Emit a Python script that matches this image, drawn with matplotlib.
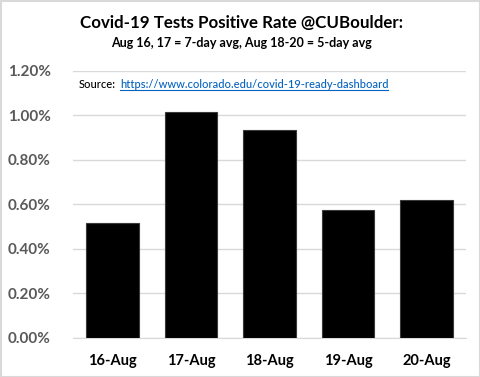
import matplotlib
matplotlib.use("Agg")
import matplotlib.pyplot as plt
from matplotlib.ticker import FuncFormatter
from matplotlib.lines import Line2D
from matplotlib.patches import Rectangle

categories = ["16-Aug", "17-Aug", "18-Aug", "19-Aug", "20-Aug"]
values = [0.516, 1.015, 0.933, 0.573, 0.618]
yticks = [0.0, 0.2, 0.4, 0.6, 0.8, 1.0, 1.2]
title = "Covid-19 Tests Positive Rate @CUBoulder:"
subtitle = "Aug 16, 17 = 7-day avg, Aug 18-20 = 5-day avg"
source_label = "Source:"
source_url = "https://www.colorado.edu/covid-19-ready-dashboard"

plt.rcParams['font.family'] = ['Lato', 'DejaVu Sans']

W, H = 481, 377
fig = plt.figure(figsize=(W/100, H/100), dpi=100)
fig.patch.set_facecolor("white")
fig.add_artist(Rectangle((0.5/W, 0.5/H), 1-1/W, 1-1/H, transform=fig.transFigure,
                         fill=False, edgecolor="#d9d9d9", linewidth=1.5))

ax = fig.add_axes([73/W, 1-337.7/H, (466-73)/W, (337.7-71)/H])
x = list(range(len(categories)))
ax.bar(x, values, width=0.67, color="black", edgecolor="#3a3a3a", linewidth=0.8, zorder=3)
ax.set_xlim(-0.5, len(categories)-0.5)
ax.set_ylim(0, 1.2)
ax.set_yticks(yticks)
ax.yaxis.set_major_formatter(FuncFormatter(lambda v, p: f"{v:.2f}%"))
ax.set_xticks(x)
ax.set_xticklabels(categories)
ax.grid(axis="y", color="#d9d9d9", linewidth=1, zorder=0)
for s in ["top", "right", "left"]:
    ax.spines[s].set_visible(False)
ax.spines["bottom"].set_color("#d9d9d9")
ax.tick_params(axis="both", length=0)
ax.tick_params(axis="y", pad=16, labelsize=11, labelcolor="#595959")
ax.tick_params(axis="x", pad=12, labelsize=10.5, labelcolor="black")
for t in ax.get_yticklabels():
    t.set_fontweight("bold")
for t in ax.get_xticklabels():
    t.set_fontweight("bold")

fig.text(241.5/W, 1-23/H, title, ha="center", va="center", fontsize=12.2, fontweight="bold")
fig.text(241.5/W, 1-43/H, subtitle, ha="center", va="center", fontsize=9, fontweight="bold")

t1 = fig.text(79/W, 1-85/H, source_label, ha="left", va="center", fontsize=8.0,
              color="black", fontweight="medium")
fig.canvas.draw()
r = fig.canvas.get_renderer()
bb = t1.get_window_extent(renderer=r)
t2 = fig.text((bb.x1 + 4)/W, 1-85/H, source_url, ha="left", va="center", fontsize=8.0,
              color="#0563c1", fontweight="medium")
fig.canvas.draw()
bb2 = t2.get_window_extent(renderer=r)
fig.add_artist(Line2D([bb2.x0/W, bb2.x1/W], [(bb2.y0+1)/H, (bb2.y0+1)/H],
                      transform=fig.transFigure, color="#0563c1", linewidth=0.8))

fig.savefig("out.png", dpi=100, facecolor="white")
